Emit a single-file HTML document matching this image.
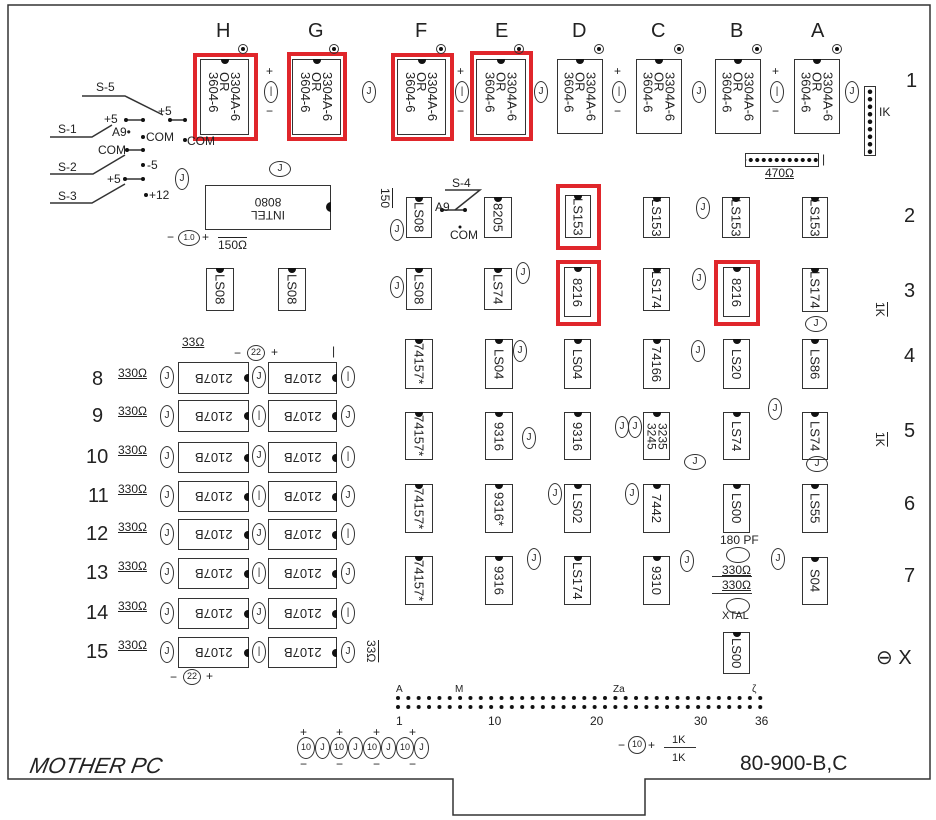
<!DOCTYPE html>
<html><head><meta charset="utf-8"><style>
body{margin:0;width:936px;height:820px;background:#fff;position:relative;overflow:hidden;font-family:"Liberation Sans",sans-serif;color:#222}
.a{position:absolute;white-space:nowrap}
.ch{position:absolute;border:1.4px solid #333;box-sizing:border-box;display:flex;align-items:center;justify-content:center;font-size:13px;writing-mode:vertical-rl;background:#fff;line-height:11px}
.ch::before{content:"";position:absolute;top:-1px;left:50%;margin-left:-4px;width:8px;height:5px;background:#111;border-radius:0 0 5px 5px}
.hz{position:absolute;border:1.4px solid #333;box-sizing:border-box;font-size:13px;display:flex;align-items:center;justify-content:center}
.hz span{transform:rotate(180deg)}
.hz::after{content:"";position:absolute;right:-1px;top:50%;margin-top:-4px;width:5px;height:8px;background:#111;border-radius:5px 0 0 5px}
.cp{position:absolute;border:1.3px solid #333;border-radius:50%;width:14px;height:22px;box-sizing:border-box;font-size:10px;text-align:center;line-height:20px}
.ch2{position:absolute;border:1.3px solid #333;border-radius:50%;width:22px;height:16px;box-sizing:border-box;font-size:10px;text-align:center;line-height:14px}
.red{position:absolute;border:4px solid #e0262b;box-sizing:border-box}
.pot{position:absolute;width:10px;height:10px;border:1.3px solid #333;border-radius:50%;box-sizing:border-box}
.pot::after{content:"";position:absolute;left:2px;top:2px;width:4px;height:4px;background:#111;border-radius:50%}
.L{font-size:20px}
.s{font-size:12px}
.u{text-decoration:underline}
.o{text-decoration:overline}
</style></head><body>
<svg class="a" style="left:0;top:0" width="936" height="820">
<g stroke="#333" stroke-width="1.5" fill="none">
<path d="M8 5 H930 V779 H645 V815 H453 V779 H8 Z"/>
<path d="M82 96 H125 L163 115"/><path d="M170 120 H185"/>
<path d="M50 137 H92 L112 125"/><path d="M126 120 H143"/>
<path d="M127 150 H143"/>
<path d="M50 174 H93 L125 155"/>
<path d="M50 203 H92 L125 184"/><path d="M125 179 H143"/>
<path d="M445 190 H480 L455 210"/><path d="M442 210 H465"/>
</g>
<g fill="#111">
<circle cx="170" cy="120" r="2"/><circle cx="185" cy="120" r="2"/><circle cx="126" cy="120" r="2"/><circle cx="143" cy="120" r="2"/>
<circle cx="127" cy="150" r="2"/><circle cx="143" cy="150" r="2"/><circle cx="143" cy="137" r="2"/><circle cx="185" cy="140" r="2"/>
<circle cx="143" cy="165" r="2"/><circle cx="125" cy="179" r="2"/><circle cx="143" cy="179" r="2"/><circle cx="146" cy="195" r="2"/>
<circle cx="442" cy="210" r="2"/><circle cx="465" cy="210" r="2"/><circle cx="460" cy="227" r="1.5"/>
</g>
<g fill="#111" id="dots"></g>
</svg>
<svg class="a" style="left:395px;top:695px" width="380" height="20">
<defs><pattern id="dp" width="10.35" height="9" patternUnits="userSpaceOnUse"><circle cx="3" cy="3" r="2" fill="#111"/></pattern></defs>
<rect x="0" y="0" width="372" height="18" fill="url(#dp)"/>
</svg>

<!-- column letters -->
<div class="a L" style="left:216px;top:20px">H</div>
<div class="a L" style="left:308px;top:20px">G</div>
<div class="a L" style="left:415px;top:20px">F</div>
<div class="a L" style="left:495px;top:20px">E</div>
<div class="a L" style="left:572px;top:20px">D</div>
<div class="a L" style="left:651px;top:20px">C</div>
<div class="a L" style="left:730px;top:20px">B</div>
<div class="a L" style="left:811px;top:20px">A</div>
<!-- row numbers -->
<div class="a L" style="left:906px;top:70px">1</div>
<div class="a L" style="left:904px;top:205px">2</div>
<div class="a L" style="left:904px;top:280px">3</div>
<div class="a L" style="left:904px;top:345px">4</div>
<div class="a L" style="left:904px;top:420px">5</div>
<div class="a L" style="left:904px;top:493px">6</div>
<div class="a L" style="left:904px;top:565px">7</div>
<div class="a L" style="left:876px;top:645px">⊖ X</div>

<!-- top row chips -->
<div class="ch" style="left:200px;top:59px;width:49px;height:76px">3304A-6<br>OR<br>3604-6</div>
<div class="ch" style="left:292px;top:59px;width:49px;height:76px">3304A-6<br>OR<br>3604-6</div>
<div class="ch" style="left:397px;top:59px;width:49px;height:76px">3304A-6<br>OR<br>3604-6</div>
<div class="ch" style="left:476px;top:59px;width:50px;height:76px">3304A-6<br>OR<br>3604-6</div>
<div class="ch" style="left:557px;top:59px;width:46px;height:75px">3304A-6<br>OR<br>3604-6</div>
<div class="ch" style="left:636px;top:59px;width:46px;height:75px">3304A-6<br>OR<br>3604-6</div>
<div class="ch" style="left:715px;top:59px;width:46px;height:75px">3304A-6<br>OR<br>3604-6</div>
<div class="ch" style="left:794px;top:59px;width:46px;height:75px">3304A-6<br>OR<br>3604-6</div>
<div class="red" style="left:193px;top:53px;width:65px;height:88px"></div>
<div class="red" style="left:287px;top:52px;width:60px;height:89px"></div>
<div class="red" style="left:391px;top:53px;width:63px;height:88px"></div>
<div class="red" style="left:470px;top:51px;width:63px;height:90px"></div>
<div class="pot" style="left:238px;top:44px"></div>
<div class="pot" style="left:329px;top:44px"></div>
<div class="pot" style="left:436px;top:44px"></div>
<div class="pot" style="left:514px;top:44px"></div>
<div class="pot" style="left:594px;top:44px"></div>
<div class="pot" style="left:674px;top:44px"></div>
<div class="pot" style="left:752px;top:44px"></div>
<div class="pot" style="left:832px;top:44px"></div>
<div class="cp" style="left:264px;top:81px">|</div><div class="a s" style="left:266px;top:64px">+</div><div class="a s" style="left:266px;top:104px">−</div>
<div class="cp" style="left:362px;top:81px">J</div>
<div class="cp" style="left:455px;top:81px">|</div><div class="a s" style="left:457px;top:64px">+</div><div class="a s" style="left:457px;top:104px">−</div>
<div class="cp" style="left:534px;top:81px">J</div>
<div class="cp" style="left:612px;top:81px">|</div><div class="a s" style="left:614px;top:64px">+</div><div class="a s" style="left:614px;top:104px">−</div>
<div class="cp" style="left:692px;top:81px">J</div>
<div class="cp" style="left:770px;top:81px">|</div><div class="a s" style="left:772px;top:64px">+</div><div class="a s" style="left:772px;top:104px">−</div>
<div class="cp" style="left:845px;top:81px">J</div>
<!-- SIPs -->
<div class="a" style="left:864px;top:86px;width:12px;height:70px;border:1.4px solid #333;box-sizing:border-box;background:radial-gradient(circle,#111 2px,transparent 2.5px) 0 1px/10px 7.5px repeat-y"></div>
<div class="a s" style="left:879px;top:105px">IK</div>
<div class="a" style="left:745px;top:153px;width:74px;height:14px;border:1.4px solid #333;box-sizing:border-box;background:radial-gradient(circle,#111 1.8px,transparent 2.3px) 8px 0/6.5px 12px repeat-x"></div>
<div class="a s" style="left:822px;top:152px">|</div>
<div class="a s u" style="left:765px;top:166px">470Ω</div>

<!-- switches -->
<div class="a s" style="left:96px;top:80px">S-5</div>
<div class="a s" style="left:158px;top:104px">+5</div>
<div class="a s" style="left:58px;top:122px">S-1</div>
<div class="a s" style="left:104px;top:112px">+5</div>
<div class="a s" style="left:112px;top:125px">A9•</div>
<div class="a s" style="left:146px;top:130px">COM</div>
<div class="a s" style="left:187px;top:134px">COM</div>
<div class="a s" style="left:98px;top:143px">COM</div>
<div class="a s" style="left:58px;top:160px">S-2</div>
<div class="a s" style="left:147px;top:158px">-5</div>
<div class="a s" style="left:58px;top:189px">S-3</div>
<div class="a s" style="left:107px;top:172px">+5</div>
<div class="a s" style="left:149px;top:188px">+12</div>
<div class="cp" style="left:175px;top:168px">J</div>
<div class="ch2" style="left:269px;top:161px">J</div>
<div class="a" style="left:205px;top:185px;width:126px;height:45px;border:1.4px solid #333;box-sizing:border-box;display:flex;align-items:center;justify-content:center;font-size:12px;text-align:center;line-height:13px"><span style="transform:rotate(180deg)">INTEL<br>8080</span><div style="position:absolute;right:-1px;top:16px;width:5px;height:10px;background:#111;border-radius:5px 0 0 5px"></div></div>
<div class="a s" style="left:167px;top:230px">−</div><div class="ch2" style="left:178px;top:230px;font-size:8px">1.0</div><div class="a s" style="left:202px;top:230px">+</div>
<div class="a s o" style="left:218px;top:238px">150Ω</div>

<!-- row2 -->
<div class="a s o" style="left:378px;top:188px;writing-mode:vertical-rl">150</div>
<div class="ch" style="left:406px;top:197px;width:26px;height:41px">LS08</div>
<div class="cp" style="left:390px;top:219px">J</div>
<div class="a s" style="left:452px;top:176px">S-4</div>
<div class="a s" style="left:435px;top:200px">A9</div>
<div class="a s" style="left:450px;top:228px">COM</div>
<div class="ch" style="left:484px;top:197px;width:28px;height:41px">8205</div>
<div class="ch" style="left:565px;top:195px;width:26px;height:43px">LS153</div>
<div class="red" style="left:556px;top:184px;width:45px;height:66px"></div>
<div class="ch" style="left:643px;top:197px;width:27px;height:41px">LS153</div>
<div class="cp" style="left:696px;top:197px">J</div>
<div class="ch" style="left:722px;top:197px;width:28px;height:41px">LS153</div>
<div class="ch" style="left:802px;top:197px;width:26px;height:41px">LS153</div>
<!-- row3 -->
<div class="ch" style="left:206px;top:268px;width:28px;height:43px">LS08</div>
<div class="ch" style="left:278px;top:268px;width:28px;height:43px">LS08</div>
<div class="ch" style="left:406px;top:268px;width:26px;height:42px">LS08</div>
<div class="cp" style="left:390px;top:276px">J</div>
<div class="ch" style="left:484px;top:268px;width:28px;height:42px">LS74</div>
<div class="cp" style="left:516px;top:262px">J</div>
<div class="ch" style="left:564px;top:267px;width:27px;height:50px">8216</div>
<div class="red" style="left:556px;top:260px;width:45px;height:66px"></div>
<div class="ch" style="left:643px;top:268px;width:27px;height:43px">LS174</div>
<div class="cp" style="left:692px;top:268px">J</div>
<div class="ch" style="left:723px;top:267px;width:27px;height:50px">8216</div>
<div class="red" style="left:714px;top:260px;width:46px;height:66px"></div>
<div class="ch" style="left:802px;top:268px;width:26px;height:44px">LS174</div>
<div class="ch2" style="left:805px;top:316px">J</div>
<div class="a s o" style="left:873px;top:302px;writing-mode:vertical-rl">1K</div>

<!-- rows 4-7 -->
<div class="ch" style="left:405px;top:339px;width:28px;height:50px">74157*</div>
<div class="ch" style="left:485px;top:339px;width:28px;height:50px">LS04</div>
<div class="cp" style="left:513px;top:340px">J</div>
<div class="ch" style="left:564px;top:339px;width:27px;height:50px">LS04</div>
<div class="ch" style="left:643px;top:339px;width:27px;height:50px">74166</div>
<div class="cp" style="left:691px;top:340px">J</div>
<div class="ch" style="left:723px;top:339px;width:27px;height:50px">LS20</div>
<div class="ch" style="left:802px;top:339px;width:26px;height:50px">LS86</div>

<div class="ch" style="left:405px;top:412px;width:28px;height:48px">74157*</div>
<div class="ch" style="left:485px;top:412px;width:28px;height:48px">9316</div>
<div class="cp" style="left:522px;top:427px">J</div>
<div class="ch" style="left:564px;top:412px;width:27px;height:48px">9316</div>
<div class="cp" style="left:615px;top:416px">J</div><div class="cp" style="left:628px;top:416px">J</div>
<div class="ch" style="left:643px;top:412px;width:27px;height:48px;font-size:12px">3235<br>3245</div>
<div class="ch2" style="left:684px;top:454px">J</div>
<div class="ch" style="left:723px;top:412px;width:27px;height:48px">LS74</div>
<div class="cp" style="left:768px;top:398px">J</div>
<div class="ch" style="left:802px;top:412px;width:26px;height:48px">LS74</div>
<div class="ch2" style="left:806px;top:456px">J</div>
<div class="a s o" style="left:873px;top:432px;writing-mode:vertical-rl">1K</div>

<div class="ch" style="left:405px;top:484px;width:28px;height:49px">74157*</div>
<div class="ch" style="left:485px;top:484px;width:28px;height:49px">9316*</div>
<div class="cp" style="left:548px;top:483px">J</div>
<div class="ch" style="left:564px;top:484px;width:27px;height:49px">LS02</div>
<div class="cp" style="left:625px;top:483px">J</div>
<div class="ch" style="left:643px;top:484px;width:27px;height:49px">7442</div>
<div class="ch" style="left:723px;top:484px;width:27px;height:49px">LS00</div>
<div class="ch" style="left:802px;top:484px;width:26px;height:49px">LS55</div>

<div class="ch" style="left:405px;top:556px;width:28px;height:49px">74157*</div>
<div class="ch" style="left:485px;top:556px;width:28px;height:49px">9316</div>
<div class="cp" style="left:527px;top:548px">J</div>
<div class="ch" style="left:564px;top:556px;width:27px;height:49px">LS174</div>
<div class="ch" style="left:643px;top:556px;width:27px;height:49px">9310</div>
<div class="cp" style="left:680px;top:550px">J</div>
<div class="a s" style="left:720px;top:533px">180 PF</div>
<div class="a" style="left:726px;top:547px;width:22px;height:14px;border:1.3px solid #333;border-radius:50%"></div>
<div class="a s u" style="left:722px;top:563px">330Ω</div>
<div class="a" style="left:712px;top:576px;width:40px;border-top:1.3px solid #333"></div>
<div class="a s u" style="left:722px;top:578px">330Ω</div>
<div class="a" style="left:712px;top:593px;width:40px;border-top:1.3px solid #333"></div>
<div class="a" style="left:726px;top:598px;width:22px;height:14px;border:1.3px solid #333;border-radius:50%"></div>
<div class="a" style="left:722px;top:610px;font-size:11px">XTAL</div>
<div class="cp" style="left:771px;top:548px">J</div>
<div class="ch" style="left:802px;top:557px;width:26px;height:48px">S04</div>
<div class="ch" style="left:723px;top:632px;width:27px;height:42px">LS00</div>

<!-- memory block -->
<div class="a s u" style="left:182px;top:335px">33Ω</div>
<div class="a s" style="left:234px;top:346px">−</div><div class="a" style="left:247px;top:345px;width:16px;height:14px;border:1.3px solid #333;border-radius:50%;font-size:9px;text-align:center;line-height:13px">22</div><div class="a s" style="left:271px;top:345px">+</div>
<div class="a s" style="left:332px;top:344px">|</div>

<div class="a L" style="left:92px;top:368px">8</div><div class="a s u" style="left:118px;top:366px">330Ω</div><div class="cp" style="left:160px;top:366px">J</div>
<div class="hz" style="left:178px;top:362px;width:71px;height:32px"><span>2107B</span></div><div class="cp" style="left:252px;top:366px">J</div>
<div class="hz" style="left:268px;top:362px;width:69px;height:32px"><span>2107B</span></div><div class="cp" style="left:341px;top:366px">|</div>

<div class="a L" style="left:92px;top:405px">9</div><div class="a s u" style="left:118px;top:404px">330Ω</div><div class="cp" style="left:160px;top:405px">J</div>
<div class="hz" style="left:178px;top:400px;width:71px;height:32px"><span>2107B</span></div><div class="cp" style="left:252px;top:405px">|</div>
<div class="hz" style="left:268px;top:400px;width:69px;height:32px"><span>2107B</span></div><div class="cp" style="left:341px;top:405px">J</div>

<div class="a L" style="left:86px;top:446px">10</div><div class="a s u" style="left:118px;top:443px">330Ω</div><div class="cp" style="left:160px;top:446px">J</div>
<div class="hz" style="left:178px;top:442px;width:71px;height:31px"><span>2107B</span></div><div class="cp" style="left:252px;top:445px">J</div>
<div class="hz" style="left:268px;top:442px;width:69px;height:31px"><span>2107B</span></div><div class="cp" style="left:341px;top:446px">|</div>

<div class="a L" style="left:88px;top:485px">11</div><div class="a s u" style="left:118px;top:482px">330Ω</div><div class="cp" style="left:160px;top:485px">J</div>
<div class="hz" style="left:178px;top:481px;width:71px;height:31px"><span>2107B</span></div><div class="cp" style="left:252px;top:485px">|</div>
<div class="hz" style="left:268px;top:481px;width:69px;height:31px"><span>2107B</span></div><div class="cp" style="left:341px;top:485px">J</div>

<div class="a L" style="left:86px;top:523px">12</div><div class="a s u" style="left:118px;top:520px">330Ω</div><div class="cp" style="left:160px;top:523px">J</div>
<div class="hz" style="left:178px;top:519px;width:71px;height:31px"><span>2107B</span></div><div class="cp" style="left:252px;top:523px">J</div>
<div class="hz" style="left:268px;top:519px;width:69px;height:31px"><span>2107B</span></div><div class="cp" style="left:341px;top:523px">|</div>

<div class="a L" style="left:86px;top:562px">13</div><div class="a s u" style="left:118px;top:559px">330Ω</div><div class="cp" style="left:160px;top:562px">J</div>
<div class="hz" style="left:178px;top:558px;width:71px;height:31px"><span>2107B</span></div><div class="cp" style="left:252px;top:562px">|</div>
<div class="hz" style="left:268px;top:558px;width:69px;height:31px"><span>2107B</span></div><div class="cp" style="left:341px;top:562px">J</div>

<div class="a L" style="left:86px;top:602px">14</div><div class="a s u" style="left:118px;top:599px">330Ω</div><div class="cp" style="left:160px;top:602px">J</div>
<div class="hz" style="left:178px;top:598px;width:71px;height:31px"><span>2107B</span></div><div class="cp" style="left:252px;top:602px">J</div>
<div class="hz" style="left:268px;top:598px;width:69px;height:31px"><span>2107B</span></div><div class="cp" style="left:341px;top:602px">|</div>

<div class="a L" style="left:86px;top:641px">15</div><div class="a s u" style="left:118px;top:638px">330Ω</div><div class="cp" style="left:160px;top:641px">J</div>
<div class="hz" style="left:178px;top:637px;width:71px;height:31px"><span>2107B</span></div><div class="cp" style="left:252px;top:641px">|</div>
<div class="hz" style="left:268px;top:637px;width:69px;height:31px"><span>2107B</span></div><div class="cp" style="left:341px;top:641px">J</div>
<div class="a s o" style="left:364px;top:640px;writing-mode:vertical-rl">33Ω</div>
<div class="a s" style="left:170px;top:670px">−</div><div class="a" style="left:183px;top:669px;width:16px;height:14px;border:1.3px solid #333;border-radius:50%;font-size:9px;text-align:center;line-height:13px">22</div><div class="a s" style="left:206px;top:669px">+</div>

<!-- connector labels -->
<div class="a" style="left:396px;top:684px;font-size:10px">A</div>
<div class="a" style="left:455px;top:684px;font-size:10px">M</div>
<div class="a" style="left:613px;top:684px;font-size:10px">Za</div>
<div class="a" style="left:752px;top:684px;font-size:10px">ζ</div>
<div class="a s" style="left:396px;top:714px">1</div>
<div class="a s" style="left:488px;top:714px">10</div>
<div class="a s" style="left:590px;top:714px">20</div>
<div class="a s" style="left:694px;top:714px">30</div>
<div class="a s" style="left:755px;top:714px">36</div>

<!-- bottom caps -->
<div class="a" style="left:297px;top:737px;font-size:13px;letter-spacing:0px">
<span style="display:inline-block;width:16px;height:20px;border:1.3px solid #333;border-radius:50%;font-size:9px;text-align:center;line-height:19px">10</span><span style="display:inline-block;width:13px;height:20px;border:1.3px solid #333;border-radius:50%;font-size:9px;text-align:center;line-height:19px">J</span><span style="display:inline-block;width:16px;height:20px;border:1.3px solid #333;border-radius:50%;font-size:9px;text-align:center;line-height:19px">10</span><span style="display:inline-block;width:13px;height:20px;border:1.3px solid #333;border-radius:50%;font-size:9px;text-align:center;line-height:19px">J</span><span style="display:inline-block;width:16px;height:20px;border:1.3px solid #333;border-radius:50%;font-size:9px;text-align:center;line-height:19px">10</span><span style="display:inline-block;width:13px;height:20px;border:1.3px solid #333;border-radius:50%;font-size:9px;text-align:center;line-height:19px">J</span><span style="display:inline-block;width:16px;height:20px;border:1.3px solid #333;border-radius:50%;font-size:9px;text-align:center;line-height:19px">10</span><span style="display:inline-block;width:13px;height:20px;border:1.3px solid #333;border-radius:50%;font-size:9px;text-align:center;line-height:19px">J</span></div>
<div class="a s" style="left:300px;top:725px">+</div><div class="a s" style="left:336px;top:725px">+</div><div class="a s" style="left:373px;top:725px">+</div><div class="a s" style="left:409px;top:725px">+</div>
<div class="a s" style="left:300px;top:757px">−</div><div class="a s" style="left:336px;top:757px">−</div><div class="a s" style="left:373px;top:757px">−</div><div class="a s" style="left:409px;top:757px">−</div>

<div class="a" style="left:30px;top:753px;font-size:22px;font-style:italic;transform:skewX(-10deg)">MOTHER PC</div>
<div class="a s" style="left:618px;top:738px">−</div><div class="a" style="left:628px;top:736px;width:16px;height:16px;border:1.3px solid #333;border-radius:50%;font-size:9px;text-align:center;line-height:15px">10</div><div class="a s" style="left:648px;top:738px">+</div>
<div class="a" style="left:672px;top:734px;font-size:11px">1K</div>
<div class="a" style="left:664px;top:747px;width:32px;border-top:1.3px solid #333"></div>
<div class="a" style="left:672px;top:752px;font-size:11px">1K</div>
<div class="a" style="left:740px;top:752px;font-size:21px">80-900-B,C</div>
</body></html>
